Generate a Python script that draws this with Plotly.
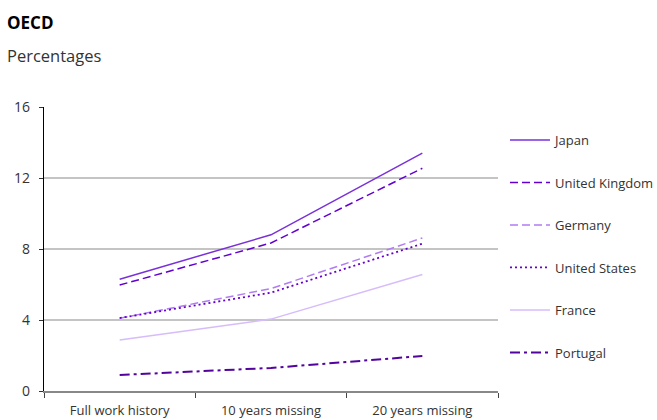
import plotly.graph_objects as go

categories = ["Full work history", "10 years missing", "20 years missing"]
countries = ["Japan", "United Kingdom", "Germany", "United States", "France", "Portugal"]
japan = [6.3, 8.8, 13.4]
united_kingdom = [5.97, 8.34, 12.55]
germany = [4.1, 5.77, 8.62]
united_states = [4.11, 5.54, 8.3]
france = [2.87, 4.05, 6.56]
portugal = [0.9, 1.3, 1.97]
y_ticks = [0, 4, 8, 12, 16]

series = [japan, united_kingdom, germany, united_states, france, portugal]
colors = ["#7A30D8", "#6200D0", "#B27CF2", "#6600CC", "#D6BCFA", "#52049C"]
dashes = ["solid", "8px,4px", "8px,4px", "2px,3px", "solid", "10px,4px,3px,4px"]
widths = [1.5, 1.5, 1.5, 1.8, 1.5, 2]

fig = go.Figure()
for name, vals, c, d, w in zip(countries, series, colors, dashes, widths):
    fig.add_trace(go.Scatter(
        x=categories, y=vals, mode="lines", name=name, legendgroup=name,
        line=dict(color=c, dash=d, width=w),
    ))

FW, FH = 657, 420
ML, MR, MT, MB = 44, 159, 107, 29
W, H = FW - ML - MR, FH - MT - MB
fig.update_layout(
    width=FW, height=FH,
    margin=dict(l=ML, r=MR, t=MT, b=MB),
    paper_bgcolor="white", plot_bgcolor="white",
    font=dict(family="Open Sans, DejaVu Sans, sans-serif", size=13, color="#333333"),
    showlegend=True,
    legend=dict(xref="container", yref="container",
                x=505 / FW, y=1 - 125 / FH, xanchor="left", yanchor="top",
                tracegroupgap=22.6, font=dict(size=13, color="#333333"),
                itemwidth=40, bgcolor="rgba(0,0,0,0)", maxheight=1),
    annotations=[
        dict(text="<b>OECD</b>", x=(5 - ML) / W, y=(FH - MB - 22) / H, xref="paper", yref="paper",
             showarrow=False, xanchor="left", yanchor="middle",
             font=dict(size=17, color="black")),
        dict(text="Percentages", x=(5 - ML) / W, y=(FH - MB - 55) / H, xref="paper", yref="paper",
             showarrow=False, xanchor="left", yanchor="middle",
             font=dict(size=16.5, color="#333333")),
    ],
)

fig.update_xaxes(
    type="category", tickson="boundaries", ticks="outside", ticklen=5,
    tickcolor="#444444", showline=True, linecolor="#888888", linewidth=2,
    showgrid=False, tickfont=dict(size=13, color="#333333"), range=[-0.5, 2.5],
    ticklabelstandoff=6, automargin=False,
)
fig.update_yaxes(
    range=[0, 16], tickvals=y_ticks, ticks="outside", ticklen=4, tickcolor="#333333",
    showline=True, linecolor="black", linewidth=1.2, showgrid=True,
    gridcolor="#C4C4C4", gridwidth=1.5, zeroline=False,
    tickfont=dict(size=14, color="#333333"), ticklabelstandoff=6, automargin=False,
)

fig.write_html("out.html")
